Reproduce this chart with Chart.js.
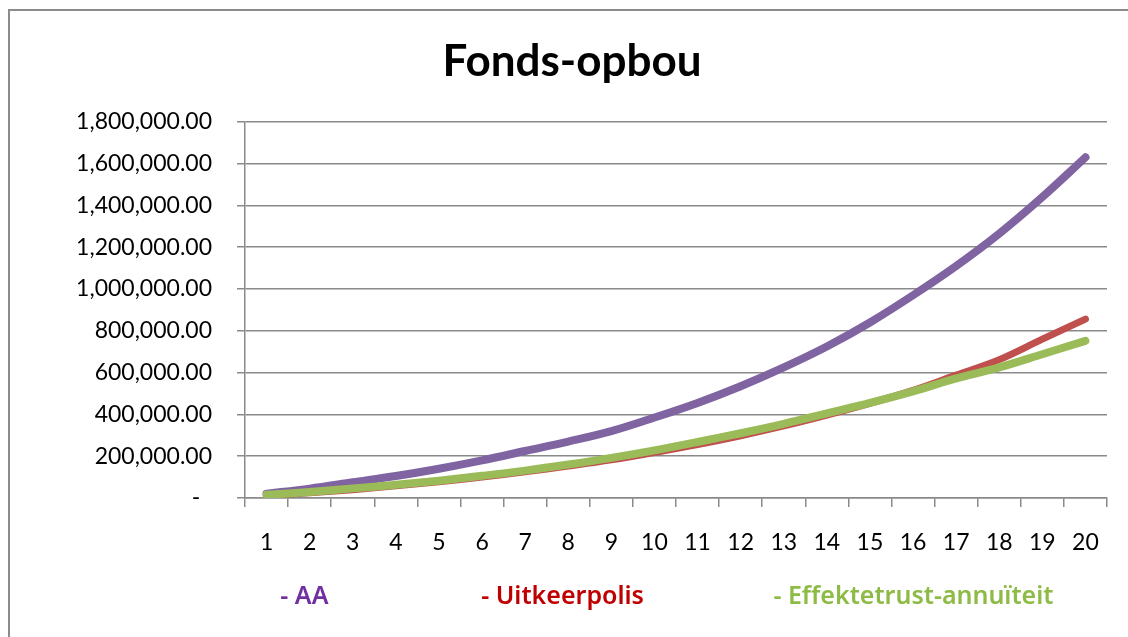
<!DOCTYPE html>
<html><head><meta charset="utf-8">
<script src="https://cdn.jsdelivr.net/npm/chart.js"></script>
<style>
html,body{margin:0;padding:0;background:#fff;overflow:hidden}
#wrap{position:relative;width:1128px;height:637px}
#frame{position:absolute;left:8px;top:9px;width:1200px;height:700px;border:2px solid #8c8c8c;box-sizing:border-box}
canvas{position:absolute;left:0;top:0}
</style></head><body>
<div id="wrap"><div id="frame"></div><canvas id="c" width="1128" height="637"></canvas></div>
<script>
/* ---- data ---- */
const years = ['1','2','3','4','5','6','7','8','9','10','11','12','13','14','15','16','17','18','19','20'];
const aa = [20000,45000,75000,105000,140000,180000,225000,270000,320000,385000,455000,535000,625000,725000,840000,970000,1110000,1265000,1440000,1630000];
const uitkeerpolis = [12000,25000,40000,58000,78000,100000,125000,153000,183000,218000,256000,298000,345000,397000,453000,515000,588000,662000,760000,856000];
const effektetrust = [15000,29000,46000,63000,83000,106000,131000,160000,192000,228000,268000,310000,355000,405000,455000,510000,572000,625000,688000,752000];
const yTicks = [0,200000,400000,600000,800000,1000000,1200000,1400000,1600000,1800000];

const seriesNames = ['AA','Uitkeerpolis','Effektetrust-annuïteit'];
const lineColors = ['#8064A2','#C0504D','#9BBB59'];
const legendColors = ['#7030A0','#C00000','#8DBB45'];
const legendSpots = [0.041,0.274,0.613];

const fmt = v => v===0 ? '-  ' : v.toLocaleString('en-US',{minimumFractionDigits:2,maximumFractionDigits:2});
const GRID = '#8a8a8a';
const FONT = 'Lato, "Open Sans", sans-serif';

// legend drawn under the plot, spread out like the original sheet
const sideLegend = {
  id:'sideLegend',
  afterDraw(chart){
    const {ctx, chartArea:a} = chart;
    ctx.save();
    ctx.font = '600 25px "Noto Sans", sans-serif';
    ctx.textBaseline = 'middle';
    chart.data.datasets.forEach((ds,i)=>{
      ctx.fillStyle = legendColors[i];
      ctx.fillText('- '+ds.label, a.left + a.width*legendSpots[i], a.bottom + 99);
    });
    ctx.restore();
  }
};

const mk = (i, data, w, order) => ({
  label: seriesNames[i], data, borderColor: lineColors[i], backgroundColor: lineColors[i],
  borderWidth: w, pointRadius: 0, tension: 0.35, borderCapStyle: 'round', borderJoinStyle: 'round', fill: false, order
});

new Chart(document.getElementById('c'), {
  type: 'line',
  data: {
    labels: years,
    datasets: [ mk(0, aa, 8, 2), mk(1, uitkeerpolis, 7, 1), mk(2, effektetrust, 8, 0) ]
  },
  options: {
    responsive: false,
    animation: false,
    layout: { padding: { left: 16, right: 0, top: 0, bottom: 79 } },
    plugins: {
      legend: { display: false },
      tooltip: { enabled: false },
      title: {
        display: true, text: 'Fonds-opbou', color: '#000',
        font: { family: FONT, size: 44, weight: 'bold' },
        padding: { top: 35, bottom: 34 }
      }
    },
    scales: {
      x: {
        offset: true,
        afterFit: s => { s.height = 60; },
        grid: { offset: true, drawOnChartArea: false, drawTicks: true, tickLength: 9, color: GRID, lineWidth: 1.5 },
        border: { color: GRID, width: 1.5 },
        ticks: { color: '#000', padding: 22, font: { family: FONT, size: 23 }, maxRotation: 0, autoSkip: false }
      },
      y: {
        min: 0, max: 1800000,
        afterFit: s => { s.width = 229; },
        afterBuildTicks: s => { s.ticks = yTicks.map(v => ({ value: v })); },
        grid: { color: GRID, lineWidth: 1.5, tickLength: 8 },
        border: { color: GRID, width: 1.5 },
        ticks: { color: '#000', padding: 25, callback: v => fmt(v), font: { family: FONT, size: 23 } }
      },
      // empty right-hand strip so the plot stops where the original does
      pad: {
        position: 'right', display: true,
        afterFit: s => { s.width = 21; },
        grid: { display: false }, border: { display: false }, ticks: { display: false }
      }
    }
  },
  plugins: [sideLegend]
});
</script>
</body></html>
